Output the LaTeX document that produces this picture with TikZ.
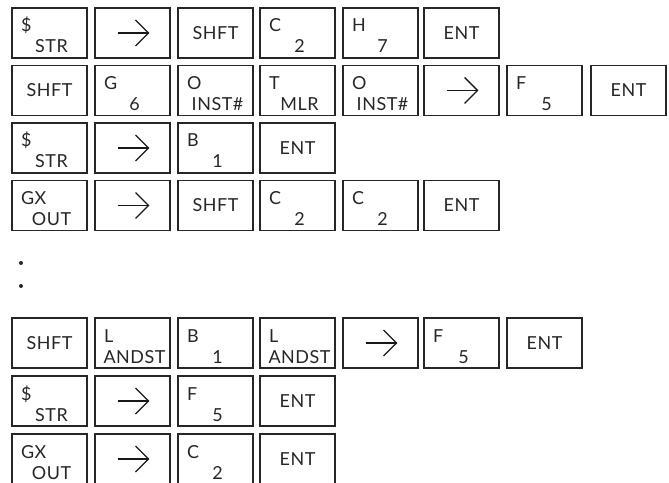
\documentclass[tikz,border=0pt]{standalone}
\usepackage{fontspec}
\setmainfont{Lato}
\newfontfamily\keyfont[LetterSpace=3]{Lato}
\tikzset{
  x=1bp, y=-1bp,
  key/.style={draw=black!85, line width=1.7bp, minimum width=75bp, minimum height=50bp,
    anchor=north west, inner sep=0pt, outer sep=0pt},
  lab/.style={inner sep=0pt, outer sep=0pt, text=black!85, font=\keyfont\fontsize{18}{18}\selectfont},
  toplab/.style={lab, anchor=base west},
  botlab/.style={lab, anchor=base},
  midlab/.style={lab, anchor=center},
  arr/.style={line width=1.4bp, draw=black!90},
  dot/.style={fill=black!85, circle, inner sep=0pt, minimum size=4bp}
}
% box with upper and lower legend
\newcommand\kTB[5]{%
  \node[key] (#1) at (#2,#3) {};
  \node[toplab] (#1t) at ([xshift=9bp,yshift=-24bp]#1.north west) {#4};
  \node[botlab] (#1b) at ([xshift=2bp,yshift=-45bp]#1.north) {#5};
}
% box with one centred legend
\newcommand\kC[4]{%
  \node[key] (#1) at (#2,#3) {};
  \node[midlab] (#1m) at (#1.center) {#4};
}
% arrow key
\newcommand\kA[3]{%
  \node[key] (#1) at (#2,#3) {};
  \draw[arr] ([xshift=-15bp]#1.center) -- ([xshift=16bp]#1.center);
  \draw[arr] ([xshift=3bp,yshift=13bp]#1.center) -- ([xshift=16bp]#1.center) -- ([xshift=3bp,yshift=-13bp]#1.center);
}
\begin{document}
\begin{tikzpicture}
\useasboundingbox (0,0) rectangle (669,483);
% row 1
\kTB{a1}{12}{8}{\$}{STR}
\kA{a2}{95}{8}
\kC{a3}{178}{8}{SHFT}
\kTB{a4}{260}{8}{C}{2}
\kTB{a5}{343}{8}{H}{7}
\kC{a6}{424}{8}{ENT}
% row 2
\kC{b1}{12}{65.5}{SHFT}
\kTB{b2}{95}{65.5}{G}{6}
\kTB{b3}{178}{65.5}{O}{INST\#}
\kTB{b4}{260}{65.5}{T}{MLR}
\kTB{b5}{343}{65.5}{O}{INST\#}
\kA{b6}{424}{65.5}
\kTB{b7}{507}{65.5}{F}{5}
\kC{b8}{591}{65.5}{ENT}
% row 3
\kTB{c1}{12}{123}{\$}{STR}
\kA{c2}{95}{123}
\kTB{c3}{178}{123}{B}{1}
\kC{c4}{260}{123}{ENT}
% row 4
\kTB{d1}{12}{180.5}{GX}{OUT}
\kA{d2}{95}{180.5}
\kC{d3}{178}{180.5}{SHFT}
\kTB{d4}{260}{180.5}{C}{2}
\kTB{d5}{343}{180.5}{C}{2}
\kC{d6}{424}{180.5}{ENT}
% dots
\node[dot] (p1) at (21,263) {};
\node[dot] (p2) at (21,286) {};
% row 5
\kC{e1}{12}{318}{SHFT}
\kTB{e2}{95}{318}{L}{ANDST}
\kTB{e3}{178}{318}{B}{1}
\kTB{e4}{260}{318}{L}{ANDST}
\kA{e5}{343}{318}
\kTB{e6}{424}{318}{F}{5}
\kC{e7}{507}{318}{ENT}
% row 6
\kTB{f1}{12}{376}{\$}{STR}
\kA{f2}{95}{376}
\kTB{f3}{178}{376}{F}{5}
\kC{f4}{260}{376}{ENT}
% row 7
\kTB{g1}{12}{434}{GX}{OUT}
\kA{g2}{95}{434}
\kTB{g3}{178}{434}{C}{2}
\kC{g4}{260}{434}{ENT}
\end{tikzpicture}
\end{document}
